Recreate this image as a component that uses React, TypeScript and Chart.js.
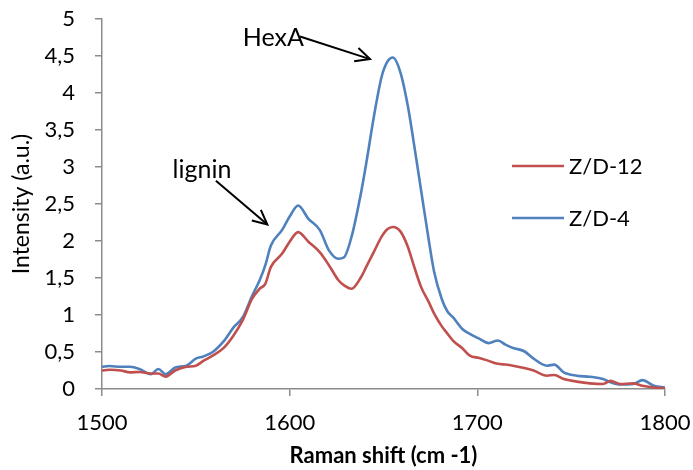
import React, { useEffect, useRef } from "react";
import { Chart, registerables } from "chart.js";

Chart.register(...registerables);

// Raman shift (cm -1)
const ramanShift = [
  1500, 1504, 1510, 1515, 1520, 1526, 1530, 1534, 1539, 1545,
  1550, 1554, 1559, 1565, 1570, 1575, 1580, 1584, 1587, 1590,
  1596, 1600, 1604.5, 1610, 1616, 1621, 1626, 1629, 1633, 1638,
  1641, 1645, 1649, 1652, 1655, 1659, 1663, 1666, 1670, 1674,
  1677, 1681, 1684, 1687, 1692, 1696, 1701, 1706, 1711, 1715,
  1719, 1725, 1730, 1737, 1741, 1746, 1753, 1760, 1767, 1771,
  1776, 1783, 1788, 1794, 1800,
];

const zd12 = [
  0.25, 0.26, 0.25, 0.225, 0.23, 0.21, 0.21, 0.167, 0.25, 0.3,
  0.315, 0.38, 0.45, 0.56, 0.72, 0.93, 1.22, 1.355, 1.42, 1.65,
  1.83, 1.99, 2.12, 1.99, 1.85, 1.67, 1.47, 1.4, 1.355, 1.51,
  1.66, 1.86, 2.06, 2.16, 2.19, 2.13, 1.92, 1.68, 1.38, 1.18,
  1.02, 0.85, 0.75, 0.655, 0.55, 0.45, 0.42, 0.38, 0.34, 0.33,
  0.315, 0.285, 0.25, 0.18, 0.19, 0.135, 0.1, 0.076, 0.067, 0.11,
  0.067, 0.076, 0.045, 0.02, 0.01,
];

const zd4 = [
  0.3, 0.31, 0.3, 0.3, 0.27, 0.2, 0.27, 0.2, 0.29, 0.315,
  0.41, 0.44, 0.5, 0.65, 0.83, 0.97, 1.26, 1.47, 1.67, 1.94,
  2.15, 2.33, 2.48, 2.3, 2.15, 1.87, 1.76, 1.78, 2.06, 2.65,
  3.08, 3.7, 4.22, 4.42, 4.48, 4.28, 3.82, 3.35, 2.69, 2.03,
  1.58, 1.22, 1.05, 0.97, 0.81, 0.745, 0.68, 0.62, 0.655, 0.6,
  0.555, 0.51, 0.41, 0.315, 0.33, 0.225, 0.18, 0.165, 0.135, 0.09,
  0.06, 0.067, 0.12, 0.045, 0.02,
];

const seriesLabels = ["Z/D-12", "Z/D-4"];
const seriesColors = ["#C0504D", "#4F81BD"];

const xMin = 1500;
const xMax = 1800;
const xStep = 100;
const yMin = 0;
const yMax = 5;
const yStep = 0.5;

const xTitle = "Raman shift (cm -1)";
const yTitle = "Intensity (a.u.)";

const annotationTexts = ["HexA", "lignin"];
const annotationTextX = [1575, 1537.6];
const annotationTextY = [4.63, 2.846];
const arrowFromX = [1605.5, 1560.7];
const arrowFromY = [4.764, 2.813];
const arrowToX = [1642.8, 1588.1];
const arrowToY = [4.458, 2.222];

const FONT = "Lato, 'Open Sans', sans-serif";
const AXIS_GRAY = "#8c8c8c";

const zeroPad = (s: any) => {
  s.paddingTop = 0;
  s.paddingBottom = 0;
  s.paddingLeft = 0;
  s.paddingRight = 0;
};

const overlayPlugin = {
  id: "overlay",
  afterDraw(chart: any) {
    const ctx = chart.ctx as CanvasRenderingContext2D;
    const xs = chart.scales.x;
    const ys = chart.scales.y;
    ctx.save();
    // annotations
    ctx.fillStyle = "#000";
    ctx.strokeStyle = "#000";
    ctx.lineWidth = 2;
    ctx.font = `25px ${FONT}`;
    ctx.textBaseline = "alphabetic";
    ctx.textAlign = "left";
    for (let i = 0; i < annotationTexts.length; i++) {
      ctx.fillText(
        annotationTexts[i],
        xs.getPixelForValue(annotationTextX[i]),
        ys.getPixelForValue(annotationTextY[i])
      );
      const x1 = xs.getPixelForValue(arrowFromX[i]);
      const y1 = ys.getPixelForValue(arrowFromY[i]);
      const x2 = xs.getPixelForValue(arrowToX[i]);
      const y2 = ys.getPixelForValue(arrowToY[i]);
      ctx.beginPath();
      ctx.moveTo(x1, y1);
      ctx.lineTo(x2, y2);
      ctx.stroke();
      const ang = Math.atan2(y2 - y1, x2 - x1);
      const len = 16;
      const spread = 0.45;
      ctx.beginPath();
      ctx.moveTo(x2 - len * Math.cos(ang - spread), y2 - len * Math.sin(ang - spread));
      ctx.lineTo(x2, y2);
      ctx.lineTo(x2 - len * Math.cos(ang + spread), y2 - len * Math.sin(ang + spread));
      ctx.stroke();
    }
    // legend
    const legX = 512;
    const legW = 52;
    const legY0 = 166;
    const legGap = 52;
    ctx.font = `22px ${FONT}`;
    ctx.textBaseline = "middle";
    for (let i = 0; i < seriesLabels.length; i++) {
      const y = legY0 + i * legGap;
      ctx.strokeStyle = seriesColors[i];
      ctx.lineWidth = 2.5;
      ctx.beginPath();
      ctx.moveTo(legX, y);
      ctx.lineTo(legX + legW, y);
      ctx.stroke();
      ctx.fillStyle = "#000";
      ctx.fillText(seriesLabels[i], legX + legW + 5, y + 1);
    }
    ctx.restore();
  },
};

export default function App() {
  const canvasRef = useRef<HTMLCanvasElement | null>(null);

  useEffect(() => {
    if (!canvasRef.current) return;
    const series = [zd12, zd4];
    const chart = new Chart(canvasRef.current, {
      type: "line",
      data: {
        datasets: series.map((vals, i) => ({
          label: seriesLabels[i],
          data: ramanShift.map((x, j) => ({ x, y: vals[j] })),
          borderColor: seriesColors[i],
          backgroundColor: seriesColors[i],
          borderWidth: 2.6,
          pointRadius: 0,
          cubicInterpolationMode: "monotone" as const,
          fill: false,
        })),
      },
      options: {
        animation: false,
        responsive: true,
        maintainAspectRatio: false,
        layout: { padding: { top: 19, right: 28, left: 0, bottom: 0 } },
        plugins: {
          legend: { display: false },
          tooltip: { enabled: false },
        },
        scales: {
          x: {
            type: "linear",
            min: xMin,
            max: xMax,
            afterFit: (s: any) => {
              s.height = 81;
              zeroPad(s);
            },
            border: { color: AXIS_GRAY, width: 1.5 },
            grid: {
              drawOnChartArea: false,
              drawTicks: true,
              tickLength: 7,
              color: AXIS_GRAY,
              lineWidth: 1.5,
            },
            ticks: {
              stepSize: xStep,
              padding: 14,
              color: "#000",
              font: { family: FONT, size: 22 },
              maxRotation: 0,
              callback: (v: any) => String(v),
            },
            title: {
              display: true,
              text: xTitle,
              color: "#000",
              font: { family: FONT, size: 22, weight: "bold" },
              padding: { top: 0, bottom: 1 },
            },
          },
          y: {
            type: "linear",
            min: yMin,
            max: yMax,
            afterFit: (s: any) => {
              s.width = 102;
              zeroPad(s);
            },
            border: { color: AXIS_GRAY, width: 1.5 },
            grid: {
              drawOnChartArea: false,
              drawTicks: true,
              tickLength: 7,
              color: AXIS_GRAY,
              lineWidth: 1.5,
            },
            ticks: {
              stepSize: yStep,
              padding: 20,
              color: "#000",
              font: { family: FONT, size: 22 },
              callback: (v: any) => String(Number(v)).replace(".", ","),
            },
            title: {
              display: true,
              text: yTitle,
              color: "#000",
              font: { family: FONT, size: 23 },
              padding: { top: 8, bottom: 0 },
            },
          },
        },
      },
      plugins: [overlayPlugin],
    });
    return () => chart.destroy();
  }, []);

  return (
    <div
      style={{
        position: "absolute",
        left: 0,
        top: 0,
        width: 693,
        height: 470,
        background: "#fff",
      }}
    >
      <canvas ref={canvasRef} />
    </div>
  );
}
